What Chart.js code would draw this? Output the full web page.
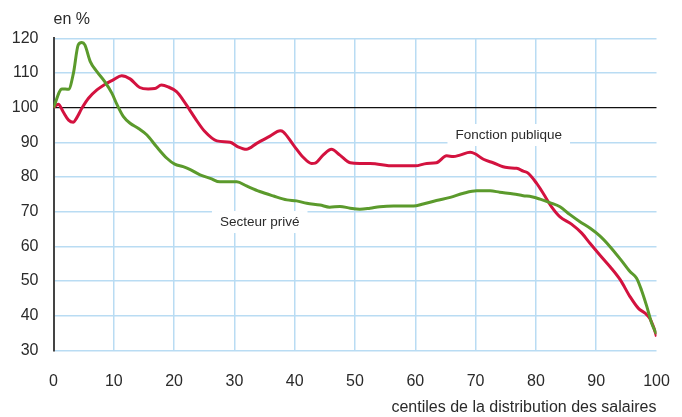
<!DOCTYPE html>
<html lang="fr">
<head>
<meta charset="utf-8">
<title>Salaires relatifs par centile</title>
<script src="https://cdn.jsdelivr.net/npm/chart.js@4.4.0/dist/chart.umd.min.js"></script>
<style>
    body { margin: 0; background: #fff; }
    canvas { display: block; }
</style>
</head>
<body>
<canvas id="courbes" width="682" height="417"></canvas>
<script>
// données (centile, valeur en %)
var centilesPrive = [0, 1.4, 2.5, 3.3, 4.1, 4.7, 5.2, 6.1, 7.2, 8.5, 9.7, 10.5, 11.6, 12.7, 14.1, 15.5, 17.1, 18.8, 20.1, 21.5, 22.6, 24.3, 26, 27.6, 30.4, 32, 34.2, 36.5, 38.7, 40.3, 42, 44.2, 45.8, 47.5, 49.2, 50.8, 52.5, 54.1, 56.4, 59.7, 61.3, 63.5, 65.8, 68, 70.2, 72.4, 74, 76.3, 77.9, 79.3, 80.7, 82.3, 84, 85.6, 87.3, 89, 90.6, 92.3, 94, 95.6, 96.7, 97.5, 98.4, 99.2, 100];
var secteurPrive = [100, 105.4, 105.3, 109.9, 118.1, 118.8, 118.1, 113.3, 110.4, 107.5, 104.1, 101, 97.4, 95.5, 94.0, 92.1, 88.7, 85.4, 83.7, 83.0, 82.2, 80.6, 79.6, 78.6, 78.6, 77.4, 75.8, 74.5, 73.4, 73.1, 72.4, 71.9, 71.3, 71.5, 71.0, 70.7, 71.0, 71.4, 71.6, 71.6, 72.2, 73.2, 74.1, 75.3, 76.0, 76.0, 75.6, 75.1, 74.6, 74.3, 73.6, 72.6, 71.4, 69.2, 67.1, 65.2, 63, 59.9, 56.3, 52.7, 50.8, 47.4, 42.6, 37.8, 34.7];

var centilesPublic = [0, 0.8, 1.6, 2.5, 3.3, 3.8, 4.7, 5.8, 7.2, 8.5, 9.9, 11.3, 12.7, 14.3, 15.7, 16.8, 17.9, 19, 20.4, 21.5, 22.6, 23.5, 25.1, 27.1, 29.3, 30.6, 32, 33.7, 35.9, 37.6, 38.1, 39.8, 41.4, 42.8, 43.4, 44.7, 46.1, 47.5, 49.2, 50.8, 52.5, 56.4, 60, 61.9, 63.5, 65.2, 66.3, 67.4, 69.1, 69.9, 71.3, 72.9, 75.2, 76.8, 77.9, 78.7, 80.1, 81.2, 82.6, 84, 85.9, 87.6, 89, 90.6, 92.3, 94, 95.6, 97, 98.1, 98.9, 99.5, 100];
var fonctionPublique = [100, 101, 98.8, 96.4, 95.8, 96.9, 99.8, 102.7, 105.1, 106.7, 108, 109.2, 108.3, 105.8, 105.4, 105.5, 106.5, 106, 104.6, 102.2, 99.3, 96.9, 93.1, 90.4, 90, 88.7, 88, 89.7, 91.8, 93.3, 93, 89.2, 85.7, 83.9, 84, 86.3, 88.0, 86.3, 84.1, 83.9, 83.9, 83.2, 83.2, 83.9, 84.1, 86.1, 85.9, 86.3, 87.1, 86.7, 85.1, 84.1, 82.7, 82.5, 81.7, 81.1, 78.2, 75.3, 71.4, 68.5, 66.4, 63.8, 60.8, 57.5, 54.1, 50.3, 45.5, 42.1, 40.7, 39.2, 36.8, 34];

// étiquettes des courbes : [texte, centile, valeur]
var etiquettes = [
    ['Fonction publique', 75.5, 92.1],
    ['Secteur privé', 34.2, 67.0]
];

var police = "'Liberation Sans', Arial, Helvetica, sans-serif";
var bleuGrille = '#b9dcf3';

function points(xs, ys) {
    var res = [];
    for (var i = 0; i < xs.length; i++) {
        res.push({ x: xs[i], y: ys[i] });
    }
    return res;
}

// textes autour du graphique
var textes = {
    id: 'textes',
    beforeDatasetsDraw: function (chart) {
        var c = chart.ctx;
        var sx = chart.scales.x, sy = chart.scales.y;
        c.save();
        c.font = '13.5px ' + police;
        c.textAlign = 'center';
        c.textBaseline = 'middle';
        etiquettes.forEach(function (e) {
            var px = sx.getPixelForValue(e[1]);
            var py = sy.getPixelForValue(e[2]);
            var w = c.measureText(e[0]).width;
            c.fillStyle = '#fff';
            c.fillRect(px - w / 2 - 8, py - 11, w + 16, 22);
            c.fillStyle = '#2a2a2a';
            c.fillText(e[0], px, py);
        });
        c.restore();
    },
    afterDraw: function (chart) {
        var c = chart.ctx;
        var a = chart.chartArea;
        c.save();
        c.font = '16px ' + police;
        c.fillStyle = '#2a2a2a';
        c.textBaseline = 'middle';
        c.textAlign = 'left';
        c.fillText('en %', a.left, 20);
        c.textAlign = 'right';
        c.fillText('centiles de la distribution des salaires', a.right, 408);
        c.restore();
    }
};

var ctx = document.getElementById('courbes');

var monGraphique = new Chart(ctx, {
    type: 'line',
    data: {
        datasets: [{
            label: 'Secteur privé',
            data: points(centilesPrive, secteurPrive),
            borderColor: '#5b9a2c',
            borderWidth: 3,
            pointRadius: 0,
            cubicInterpolationMode: 'monotone',
            fill: false
        }, {
            label: 'Fonction publique',
            data: points(centilesPublic, fonctionPublique),
            borderColor: '#d3123f',
            borderWidth: 3,
            pointRadius: 0,
            cubicInterpolationMode: 'monotone',
            fill: false
        }]
    },
    options: {
        responsive: false,
        maintainAspectRatio: false,
        animation: false,
        layout: {
            padding: { top: 38.3, right: 25.5, left: 0, bottom: 0 }
        },
        plugins: {
            legend: { display: false },
            tooltip: { enabled: false }
        },
        scales: {
            x: {
                type: 'linear',
                min: 0,
                max: 100,
                ticks: {
                    stepSize: 10,
                    color: '#2a2a2a',
                    font: { family: police, size: 16 },
                    padding: 22
                },
                grid: {
                    drawTicks: false,
                    lineWidth: 1.5,
                    color: function (c) {
                        if (c.tick && (c.tick.value === 0 || c.tick.value === 100)) {
                            return 'rgba(0,0,0,0)';
                        }
                        return bleuGrille;
                    }
                },
                border: { display: false },
                afterFit: function (scale) {
                    scale.height = 66.7;
                    // on neutralise le débord des libellés, la marge est fixée par layout.padding
                    scale.paddingLeft = 0;
                    scale.paddingRight = 0;
                }
            },
            y: {
                min: 30,
                max: 120,
                ticks: {
                    stepSize: 10,
                    color: '#2a2a2a',
                    font: { family: police, size: 16 },
                    padding: 15
                },
                grid: {
                    drawTicks: false,
                    lineWidth: function (c) {
                        return (c.tick && c.tick.value === 100) ? 1.3 : 1.5;
                    },
                    color: function (c) {
                        if (c.tick && c.tick.value === 100) {
                            return '#111';
                        }
                        return bleuGrille;
                    }
                },
                border: { display: true, color: '#444', width: 2 },
                afterFit: function (scale) {
                    scale.width = 53.5;
                }
            }
        }
    },
    plugins: [textes]
});
</script>
</body>
</html>
